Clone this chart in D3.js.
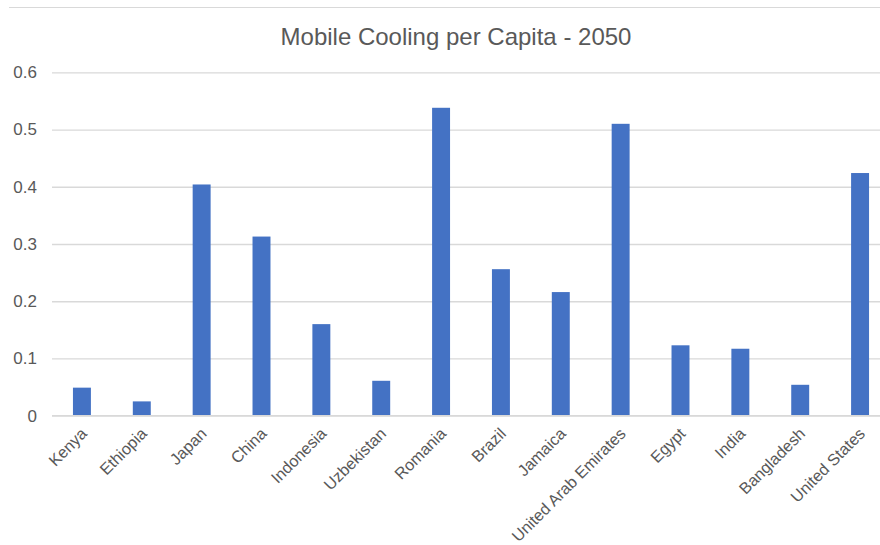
<!DOCTYPE html>
<html>
<head>
<meta charset="utf-8">
<script src="https://cdn.jsdelivr.net/npm/d3@7"></script>
<style>
  html, body { margin: 0; padding: 0; background: #fff; }
  svg { display: block; }
  text { font-family: "Liberation Sans", Arial, sans-serif; fill: #595959; }
</style>
</head>
<body>
<svg id="chart" width="880" height="545"></svg>
<script>
// Mobile cooling per capita, projected for 2050
const countries = ["Kenya", "Ethiopia", "Japan", "China", "Indonesia", "Uzbekistan",
  "Romania", "Brazil", "Jamaica", "United Arab Emirates", "Egypt", "India",
  "Bangladesh", "United States"];
const values = [0.049, 0.025, 0.404, 0.313, 0.160, 0.061,
  0.538, 0.256, 0.216, 0.510, 0.123, 0.117, 0.054, 0.424];
const yTicks = [0, 0.1, 0.2, 0.3, 0.4, 0.5, 0.6];
const title = "Mobile Cooling per Capita - 2050";

const svg = d3.select("#chart");
const W = 880;

const x = d3.scaleBand()
  .domain(countries)
  .range([52, 890])
  .paddingInner(0.7)
  .paddingOuter(0.35);

const y = d3.scaleLinear()
  .domain([0, 0.6])
  .range([415.7, 72.3]);

// chart frame top edge
svg.append("line")
  .attr("x1", 9).attr("x2", W)
  .attr("y1", 7.5).attr("y2", 7.5)
  .attr("stroke", "#d9d9d9").attr("stroke-width", 1);

// title
svg.append("text")
  .attr("x", 456).attr("y", 45)
  .attr("text-anchor", "middle")
  .style("font-size", "24px")
  .text(title);

// gridlines and y labels
const yAxis = d3.axisLeft(y)
  .tickValues(yTicks)
  .tickSize(-(W - 52))
  .tickPadding(15)
  .tickFormat(d => d === 0 ? "0" : d3.format(".1f")(d));

const gy = svg.append("g")
  .attr("transform", "translate(52,0)")
  .call(yAxis);
gy.select(".domain").remove();
gy.selectAll(".tick line")
  .attr("stroke", "#d9d9d9")
  .attr("stroke-width", 1.3);
gy.selectAll(".tick text")
  .style("font-size", "17px")
  .style("fill", "#595959");

// bars
svg.append("g")
  .selectAll("rect")
  .data(values)
  .join("rect")
  .attr("x", (d, i) => x(countries[i]))
  .attr("width", x.bandwidth())
  .attr("y", d => y(d))
  .attr("height", d => y(0) - y(d))
  .attr("fill", "#4472C4");

// baseline drawn over bar bottoms
svg.append("line")
  .attr("x1", 52).attr("x2", W)
  .attr("y1", y(0)).attr("y2", y(0))
  .attr("stroke", "#d9d9d9").attr("stroke-width", 1.3);

// rotated category labels
const xAxis = d3.axisBottom(x).tickSize(0).tickPadding(0);
const gx = svg.append("g")
  .attr("transform", `translate(0,${y(0)})`)
  .call(xAxis);
gx.select(".domain").remove();
gx.selectAll(".tick text")
  .style("font-size", "16.2px")
  .style("fill", "#595959")
  .attr("text-anchor", "end")
  .attr("dy", "0.35em")
  .attr("y", 0)
  .attr("transform", "translate(2,15) rotate(-45)");
</script>
</body>
</html>
